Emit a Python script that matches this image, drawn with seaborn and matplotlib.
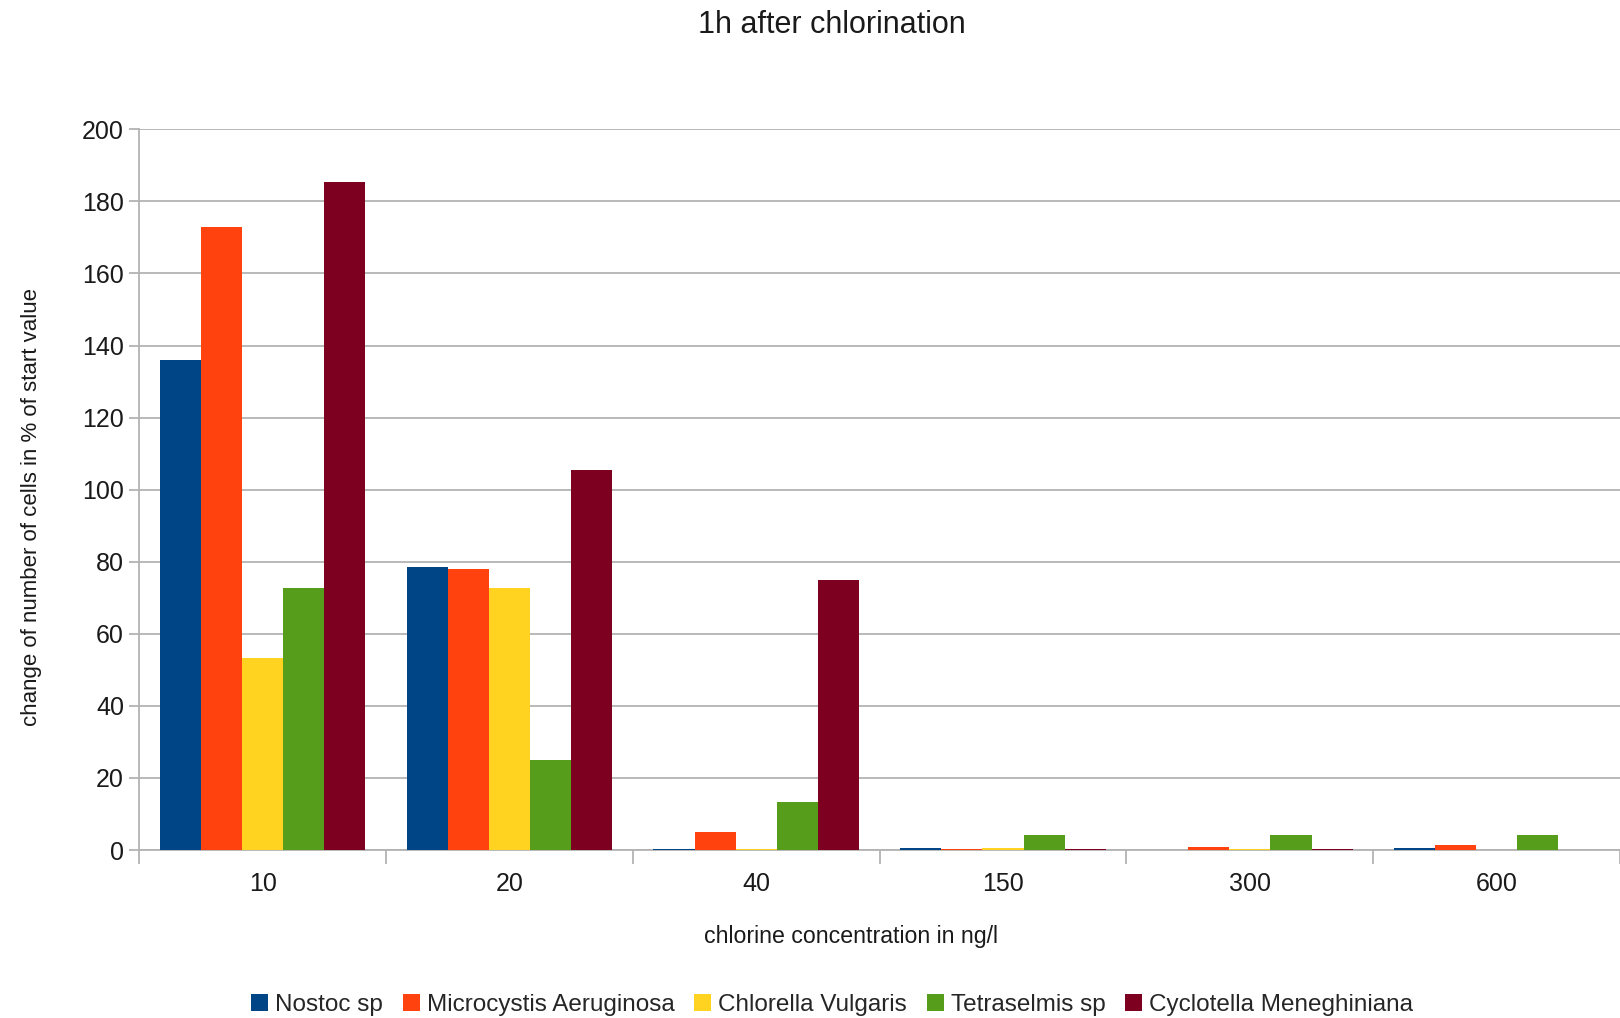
import matplotlib
matplotlib.use("Agg")
import matplotlib.pyplot as plt
from matplotlib.ticker import FixedLocator, NullFormatter
import seaborn as sns
import pandas as pd

# chlorine concentrations (ng/l) on the category axis
concentrations = ["10", "20", "40", "150", "300", "600"]

# change of cell count in % of start value, per species
nostoc = [136.1, 78.5, 0.3, 0.6, 0.0, 0.5]
microcystis = [172.8, 77.9, 5.1, 0.2, 0.9, 1.5]
chlorella = [53.3, 72.8, 0.3, 0.6, 0.3, 0.0]
tetraselmis = [72.8, 25.0, 13.2, 4.3, 4.2, 4.1]
cyclotella = [185.4, 105.4, 74.8, 0.2, 0.2, 0.0]

species = ["Nostoc sp", "Microcystis Aeruginosa", "Chlorella Vulgaris",
           "Tetraselmis sp", "Cyclotella Meneghiniana"]
colors = ["#004586", "#ff420e", "#ffd320", "#579d1c", "#7e0021"]

rows = []
for name, vals in zip(species, [nostoc, microcystis, chlorella, tetraselmis, cyclotella]):
    for c, v in zip(concentrations, vals):
        rows.append({"concentration": c, "species": name, "value": v})
df = pd.DataFrame(rows)

sns.set_style("white")
plt.rcParams["font.family"] = ["Liberation Sans", "DejaVu Sans"]

fig = plt.figure(figsize=(16.2, 10.18), dpi=100)
ax = fig.add_axes([0.086, 0.165, 0.914, 0.708])

sns.barplot(data=df, x="concentration", y="value", hue="species",
            order=concentrations, hue_order=species, palette=colors,
            width=0.833, gap=0, saturation=1, linewidth=0, ax=ax,
            legend=True, zorder=3)

ax.set_ylim(0, 200)
ax.set_xlim(-0.5, len(concentrations) - 0.5)
ax.set_yticks(range(0, 201, 20))
ax.yaxis.grid(True, color="#b3b3b3", linewidth=1.3, zorder=0)
ax.set_axisbelow(True)

for side in ["top", "right"]:
    ax.spines[side].set_visible(False)
for side in ["left", "bottom"]:
    ax.spines[side].set_color("#b3b3b3")
    ax.spines[side].set_linewidth(1.3)

# category separators as minor ticks on the x axis
ax.xaxis.set_minor_locator(FixedLocator([i - 0.5 for i in range(len(concentrations) + 1)]))
ax.xaxis.set_minor_formatter(NullFormatter())
ax.tick_params(axis="x", which="minor", length=10, width=1.3, color="#b3b3b3", direction="out", bottom=True)
ax.tick_params(axis="x", which="major", length=0, pad=16, labelsize=18, labelcolor="#1a1a1a", bottom=True)
ax.tick_params(axis="y", which="major", length=7, width=1.3, color="#b3b3b3", direction="out",
               pad=4, labelsize=18, labelcolor="#1a1a1a", left=True)

ax.set_xlabel("chlorine concentration in ng/l", fontsize=16.7, color="#1a1a1a")
ax.xaxis.set_label_coords(0.4806, -0.1034)
ax.set_ylabel("change of number of cells in % of start value", fontsize=16, color="#1a1a1a")
ax.yaxis.set_label_coords(-0.066, 0.476)

fig.suptitle("1h after chlorination", fontsize=22, color="#1a1a1a", y=0.990, x=0.5134)

ax.legend(loc="center", bbox_to_anchor=(0.468, -0.215), ncol=5, frameon=False,
          fontsize=17.5, handlelength=0.7, handleheight=0.7, handletextpad=0.3,
          columnspacing=0.8, borderaxespad=0)

fig.savefig("out.png", dpi=100)
